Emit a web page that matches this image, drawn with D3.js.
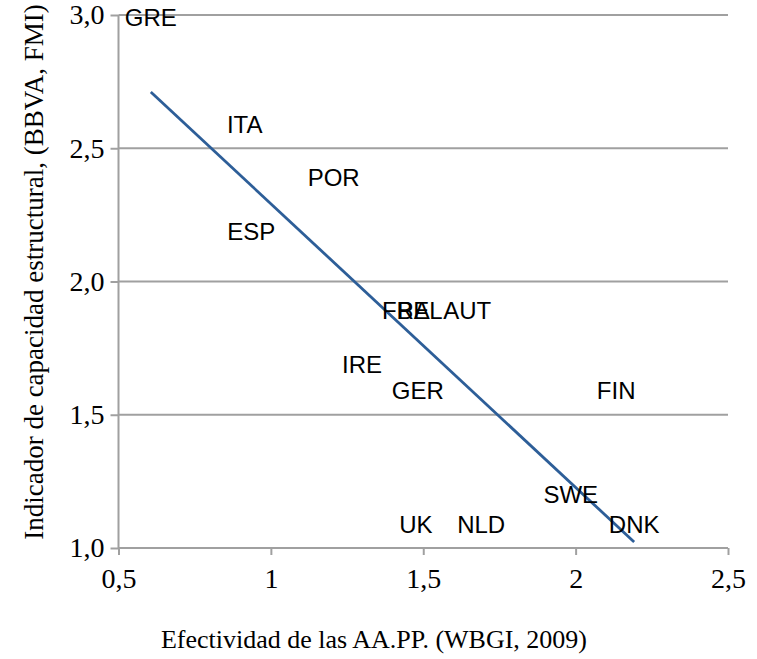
<!DOCTYPE html>
<html>
<head>
<meta charset="utf-8">
<script src="https://cdn.jsdelivr.net/npm/d3@7"></script>
<style>
  body { margin: 0; background: #fff; }
  svg { display: block; }
</style>
</head>
<body>
<svg id="chart"></svg>
<script>
// Data: one label per country, no markers.
var countries = ["GRE", "ITA", "POR", "ESP", "FRA", "BEL", "AUT", "IRE", "GER", "FIN", "SWE", "UK", "NLD", "DNK"];
var efectividad = [0.606, 0.914, 1.206, 0.936, 1.443, 1.489, 1.644, 1.299, 1.482, 2.133, 1.984, 1.476, 1.69, 2.192];
var capacidad = [2.99, 2.59, 2.39, 2.19, 1.89, 1.89, 1.89, 1.69, 1.59, 1.59, 1.2, 1.09, 1.09, 1.09];

var xTickValues = [0.5, 1, 1.5, 2, 2.5];
var xTickLabels = ["0,5", "1", "1,5", "2", "2,5"];
var yTickValues = [1, 1.5, 2, 2.5, 3];
var yTickLabels = ["1,0", "1,5", "2,0", "2,5", "3,0"];

var w = 757;
var h = 659;
var gray = "#a0a0a0";
var serif = "'Liberation Serif', 'Times New Roman', serif";
var sans = "'Liberation Sans', Arial, sans-serif";

var svg = d3.select("#chart").attr("width", w).attr("height", h);

var x = d3.scaleLinear().domain([0.5, 2.5]).range([118.5, 728]);
var y = d3.scaleLinear().domain([1, 3]).range([548, 15]);

// Horizontal gridlines
svg.append("g")
    .selectAll("line")
    .data(yTickValues.slice(1))
    .enter()
    .append("line")
    .attr("x1", x(0.5))
    .attr("x2", x(2.5))
    .attr("y1", function(d) { return y(d); })
    .attr("y2", function(d) { return y(d); })
    .attr("stroke", gray)
    .attr("stroke-width", 2);

// Axes
var xAxis = svg.append("g")
    .attr("transform", "translate(0," + y(1) + ")")
    .call(d3.axisBottom(x)
        .tickValues(xTickValues)
        .tickFormat(function(d, i) { return xTickLabels[i]; })
        .tickSize(7)
        .tickPadding(13));

var yAxis = svg.append("g")
    .attr("transform", "translate(" + x(0.5) + ",0)")
    .call(d3.axisLeft(y)
        .tickValues(yTickValues)
        .tickFormat(function(d, i) { return yTickLabels[i]; })
        .tickSize(8)
        .tickPadding(6));

[xAxis, yAxis].forEach(function(a) {
    a.select(".domain").attr("stroke", gray).attr("stroke-width", 2);
    a.selectAll(".tick line").attr("stroke", gray).attr("stroke-width", 2);
    a.selectAll(".tick text")
        .attr("fill", "#000")
        .style("font-family", serif)
        .style("font-size", "28px");
});
xAxis.select(".domain").attr("d", "M" + x(0.5) + ",0H" + x(2.5));
yAxis.select(".domain").attr("d", "M0," + y(1) + "V" + y(3));

// Linear trend line over the data range (least squares)
var mx = d3.mean(efectividad);
var my = d3.mean(capacidad);
var sxy = d3.sum(efectividad, function(v, i) { return (v - mx) * (capacidad[i] - my); });
var sxx = d3.sum(efectividad, function(v) { return (v - mx) * (v - mx); });
var slope = sxy / sxx;
var intercept = my - slope * mx;
var xr = d3.extent(efectividad);

svg.append("line")
    .attr("x1", x(xr[0]))
    .attr("y1", y(intercept + slope * xr[0]))
    .attr("x2", x(xr[1]))
    .attr("y2", y(intercept + slope * xr[1]))
    .attr("stroke", "#2d5e98")
    .attr("stroke-width", 2.8);

// Country labels centred on the points (they overlap in the original too)
svg.append("g")
    .selectAll("text")
    .data(countries)
    .enter()
    .append("text")
    .attr("x", function(d, i) { return x(efectividad[i]); })
    .attr("y", function(d, i) { return y(capacidad[i]); })
    .attr("dy", "0.36em")
    .attr("text-anchor", "middle")
    .style("font-family", sans)
    .style("font-size", "24px")
    .attr("fill", "#000")
    .text(function(d) { return d; });

// Axis titles
svg.append("text")
    .attr("x", 374)
    .attr("y", 648)
    .attr("text-anchor", "middle")
    .style("font-family", serif)
    .style("font-size", "26px")
    .text("Efectividad de las AA.PP. (WBGI, 2009)");

svg.append("text")
    .attr("transform", "translate(43,272) rotate(-90)")
    .attr("text-anchor", "middle")
    .style("font-family", serif)
    .style("font-size", "27px")
    .text("Indicador de capacidad estructural, (BBVA, FMI)");
</script>
</body>
</html>
